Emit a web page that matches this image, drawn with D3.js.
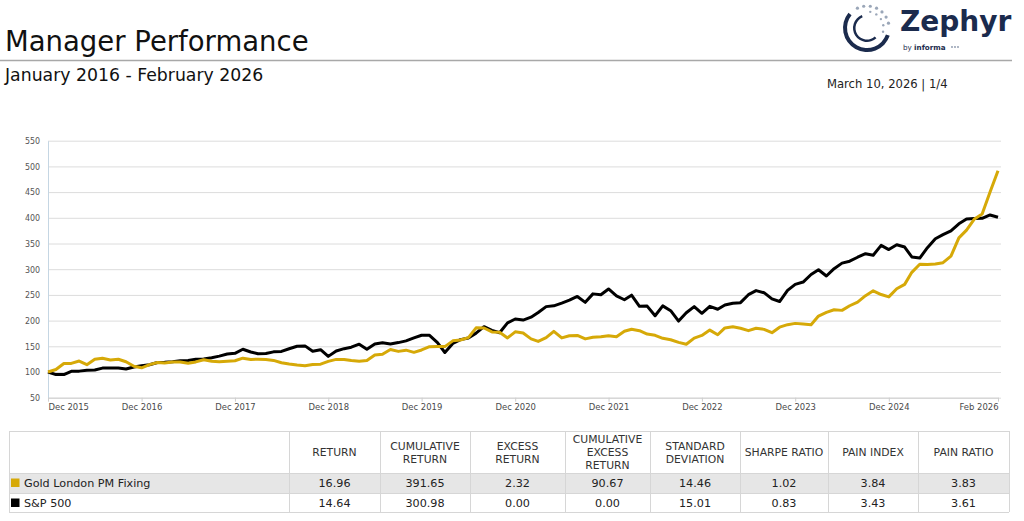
<!DOCTYPE html>
<html>
<head>
<meta charset="utf-8">
<script src="https://cdn.jsdelivr.net/npm/d3@7.9.0/dist/d3.min.js"></script>
<style>
  body { margin: 0; background: #fff; overflow: hidden; }
  svg { display: block; font-family: "DejaVu Sans", Verdana, sans-serif; }
</style>
</head>
<body>
<svg id="page" width="1024" height="521"></svg>
<script>
// growth of 100, monthly, Dec 2015 .. Feb 2026
const gold = [
  100,
  104.9, 116.5, 116.7, 121.3, 114.3, 124.6, 126.6, 123.5, 124.8, 120.0, 111.1, 108.1,
  114.4, 118.5, 117.4, 119.5, 119.5, 117.2, 119.6, 123.8, 121.0, 119.8, 120.8, 121.8,
  126.9, 124.3, 124.9, 124.1, 122.5, 118.0, 115.4, 113.4, 112.0, 114.6, 115.3, 120.7,
  124.5, 124.5, 122.2, 121.1, 122.2, 132.9, 134.7, 143.9, 140.1, 142.5, 138.2, 142.9,
  149.3, 149.6, 149.4, 160.6, 162.2, 166.8, 185.9, 185.6, 178.0, 177.3, 166.3, 178.1,
  175.8, 164.5, 159.5, 166.8, 179.2, 166.3, 170.6, 171.1, 164.4, 167.6, 168.4, 170.4,
  168.7, 179.3, 183.2, 180.3, 173.8, 171.4, 165.5, 162.8, 157.7, 154.1, 166.0, 171.1,
  181.5, 172.4, 185.8, 187.9, 185.1, 180.4, 185.1, 182.9, 176.4, 187.2, 192.1, 194.6,
  193.5, 192.1, 208.9, 216.1, 221.1, 219.9, 228.9, 236.1, 248.5, 257.9, 250.7, 246.1,
  262.0, 270.5, 293.9, 309.7, 309.2, 310.1, 312.7, 325.3, 360.9, 376.1, 397.8, 407.4,
  450.0, 491.65
];
const spx = [
  100,
  95.0, 94.9, 101.4, 101.7, 103.5, 103.8, 107.6, 107.8, 107.8, 105.8, 109.7, 112.0,
  114.1, 118.6, 118.8, 120.0, 121.7, 122.4, 124.9, 125.3, 127.9, 130.9, 134.9, 136.4,
  144.2, 138.9, 135.4, 135.9, 139.2, 140.0, 145.2, 150.0, 150.8, 140.5, 143.4, 130.4,
  140.9, 145.4, 148.2, 154.2, 144.4, 154.6, 156.8, 154.3, 157.2, 160.6, 166.5, 171.5,
  171.4, 157.3, 137.9, 155.6, 163.0, 166.2, 175.6, 188.2, 181.1, 176.3, 195.6, 203.1,
  201.0, 206.6, 215.7, 227.2, 228.8, 234.1, 239.7, 247.0, 235.5, 252.0, 250.3, 261.5,
  248.0, 240.6, 249.5, 227.8, 228.2, 209.4, 228.7, 219.3, 199.1, 215.3, 227.3, 214.2,
  227.7, 222.1, 230.3, 233.9, 234.9, 250.4, 258.4, 254.3, 242.2, 237.1, 258.7, 270.5,
  275.0, 289.7, 299.0, 286.8, 301.0, 311.8, 315.6, 323.3, 330.2, 327.2, 346.4, 338.2,
  347.6, 343.1, 323.8, 321.6, 341.8, 359.2, 367.3, 374.7, 388.4, 397.5, 398.5, 399.0,
  405.5, 400.98
];

const tickLabels = ['Dec 2015', 'Dec 2016', 'Dec 2017', 'Dec 2018', 'Dec 2019',
  'Dec 2020', 'Dec 2021', 'Dec 2022', 'Dec 2023', 'Dec 2024', 'Feb 2026'];
const yTicks = [50, 100, 150, 200, 250, 300, 350, 400, 450, 500, 550];

const seriesNames = ['Gold London PM Fixing', 'S&P 500'];
const statHeaders = [
  ['RETURN'], ['CUMULATIVE', 'RETURN'], ['EXCESS', 'RETURN'],
  ['CUMULATIVE', 'EXCESS', 'RETURN'], ['STANDARD', 'DEVIATION'],
  ['SHARPE RATIO'], ['PAIN INDEX'], ['PAIN RATIO']
];
const goldStats = [16.96, 391.65, 2.32, 90.67, 14.46, 1.02, 3.84, 3.83];
const spxStats = [14.64, 300.98, 0.00, 0.00, 15.01, 0.83, 3.43, 3.61];

const GOLD = '#d6a908';
const NAVY = '#1b2b4d';

const svg = d3.select('#page');

// ---- header ----
svg.append('text').attr('x', 5).attr('y', 51)
  .attr('font-size', 27.5).attr('fill', '#111').text('Manager Performance');
svg.append('line').attr('x1', 0).attr('x2', 1012).attr('y1', 60.5).attr('y2', 60.5)
  .attr('stroke', '#a8a8a8').attr('stroke-width', 1.5);
svg.append('text').attr('x', 5).attr('y', 81)
  .attr('font-size', 17.3).attr('fill', '#111').text('January 2016 - February 2026');
svg.append('text').attr('x', 827).attr('y', 88)
  .attr('font-size', 11.6).attr('fill', '#222').text('March 10, 2026 | 1/4');

// logo
const logo = svg.append('g').attr('transform', 'translate(867,28)');
logo.append('path')
  .attr('d', d3.arc().innerRadius(20).outerRadius(24).startAngle(1.9).endAngle(5.4)())
  .attr('fill', NAVY);
logo.append('path')
  .attr('d', d3.arc().innerRadius(11.5).outerRadius(14).startAngle(2.4).endAngle(5.9)())
  .attr('fill', NAVY);
[-0.45, -0.15, 0.15, 0.45, 0.75, 1.05, 1.35].forEach((a) => {
  logo.append('circle').attr('cx', 22 * Math.sin(a)).attr('cy', -22 * Math.cos(a))
    .attr('r', 1.6).attr('fill', '#9aa6b8');
});
[0.2, 0.6, 1.0, 1.4, 1.8].forEach((a) => {
  logo.append('circle').attr('cx', 16.5 * Math.sin(a)).attr('cy', -16.5 * Math.cos(a))
    .attr('r', 1.2).attr('fill', '#9aa6b8');
});
svg.append('text').attr('x', 900).attr('y', 31)
  .attr('font-size', 28).attr('font-weight', 'bold').attr('fill', NAVY).text('Zephyr');
const by = svg.append('text').attr('x', 903).attr('y', 49.5)
  .attr('font-size', 7.2).attr('fill', NAVY);
by.append('tspan').text('by ');
by.append('tspan').attr('font-weight', 'bold').text('informa');
[0, 1, 2].forEach((i) => {
  svg.append('circle').attr('cx', 952 + i * 3).attr('cy', 47).attr('r', 0.9).attr('fill', '#8a96aa');
});

// ---- chart ----
const months = gold.map((d, i) => d3.timeMonth.offset(new Date(2015, 11, 1), i));
const tickDates = tickLabels.map((l, i) => (i < 10 ? new Date(2015 + i, 11, 1) : months[months.length - 1]));

const xScale = d3.scaleTime().domain(d3.extent(months)).range([48, 998]);
const yScale = d3.scaleLinear().domain([50, 550]).range([397.7, 140.7]);

const grid = svg.append('g').attr('transform', 'translate(48,0)')
  .call(d3.axisLeft(yScale).tickValues(yTicks).tickFormat('').tickSize(-953));
grid.select('.domain').remove();
grid.selectAll('line').attr('stroke', '#dcdcdc');

const yAxis = svg.append('g').attr('transform', 'translate(48,0)')
  .call(d3.axisLeft(yScale).tickValues(yTicks).tickSize(0).tickPadding(8));
yAxis.select('.domain').attr('stroke', '#c5d6e3');
yAxis.selectAll('text').attr('fill', '#555').attr('font-size', 8.8)
  .attr('font-family', '"DejaVu Sans Condensed", "DejaVu Sans", sans-serif');

const xAxis = svg.append('g').attr('transform', 'translate(0,397.7)')
  .call(d3.axisBottom(xScale).tickValues(tickDates).tickFormat((d, i) => tickLabels[i])
    .tickSizeInner(4).tickSizeOuter(0).tickPadding(2));
xAxis.select('.domain').attr('stroke', '#cfcfcf');
xAxis.selectAll('line').attr('stroke', '#cfcfcf');
xAxis.selectAll('text').attr('fill', '#4a4a4a').attr('font-size', 9.4)
  .attr('font-family', '"DejaVu Sans Condensed", "DejaVu Sans", sans-serif')
  .attr('text-anchor', (d, i) => (i === 0 ? 'start' : i === tickLabels.length - 1 ? 'end' : 'middle'));

const line = d3.line().x((d, i) => xScale(months[i])).y((d) => yScale(d));
svg.append('path').datum(spx).attr('d', line).attr('fill', 'none')
  .attr('stroke', '#000').attr('stroke-width', 3).attr('stroke-linejoin', 'round');
svg.append('path').datum(gold).attr('d', line).attr('fill', 'none')
  .attr('stroke', GOLD).attr('stroke-width', 3).attr('stroke-linejoin', 'round');

// ---- stats table ----
const colEdges = [9, 289, 380, 470, 565, 650, 740, 828, 918, 1009];
const rowEdges = [431, 473, 493, 512];
const table = svg.append('g');
table.append('rect').attr('x', 9).attr('y', 473).attr('width', 1000).attr('height', 20)
  .attr('fill', '#e6e6e6');
table.selectAll('.hl').data(rowEdges).join('line')
  .attr('x1', 9).attr('x2', 1009).attr('y1', (d) => d + 0.5).attr('y2', (d) => d + 0.5)
  .attr('stroke', '#d6d6d6');
table.selectAll('.vl').data(colEdges).join('line')
  .attr('x1', (d) => d + 0.5).attr('x2', (d) => d + 0.5)
  .attr('y1', 431).attr('y2', 512).attr('stroke', '#d6d6d6');

statHeaders.forEach((lines, c) => {
  const cx = (colEdges[c + 1] + colEdges[c + 2]) / 2;
  const t = table.append('text').attr('text-anchor', 'middle').attr('font-size', 10.8).attr('fill', '#333');
  lines.forEach((s, j) => {
    t.append('tspan').attr('x', cx).attr('y', 456 + (j - (lines.length - 1) / 2) * 13).text(s);
  });
});

[goldStats, spxStats].forEach((vals, r) => {
  const cy = r === 0 ? 487 : 507;
  table.append('rect').attr('x', 11).attr('y', cy - 8.5).attr('width', 8.5).attr('height', 8.5)
    .attr('fill', r === 0 ? GOLD : '#000');
  table.append('text').attr('x', 24).attr('y', cy).attr('font-size', 11.2).attr('fill', '#222')
    .text(seriesNames[r]);
  vals.forEach((v, c) => {
    table.append('text').attr('x', (colEdges[c + 1] + colEdges[c + 2]) / 2).attr('y', cy)
      .attr('text-anchor', 'middle').attr('font-size', 11.2).attr('fill', '#222')
      .text(d3.format('.2f')(v));
  });
});
</script>
</body>
</html>
